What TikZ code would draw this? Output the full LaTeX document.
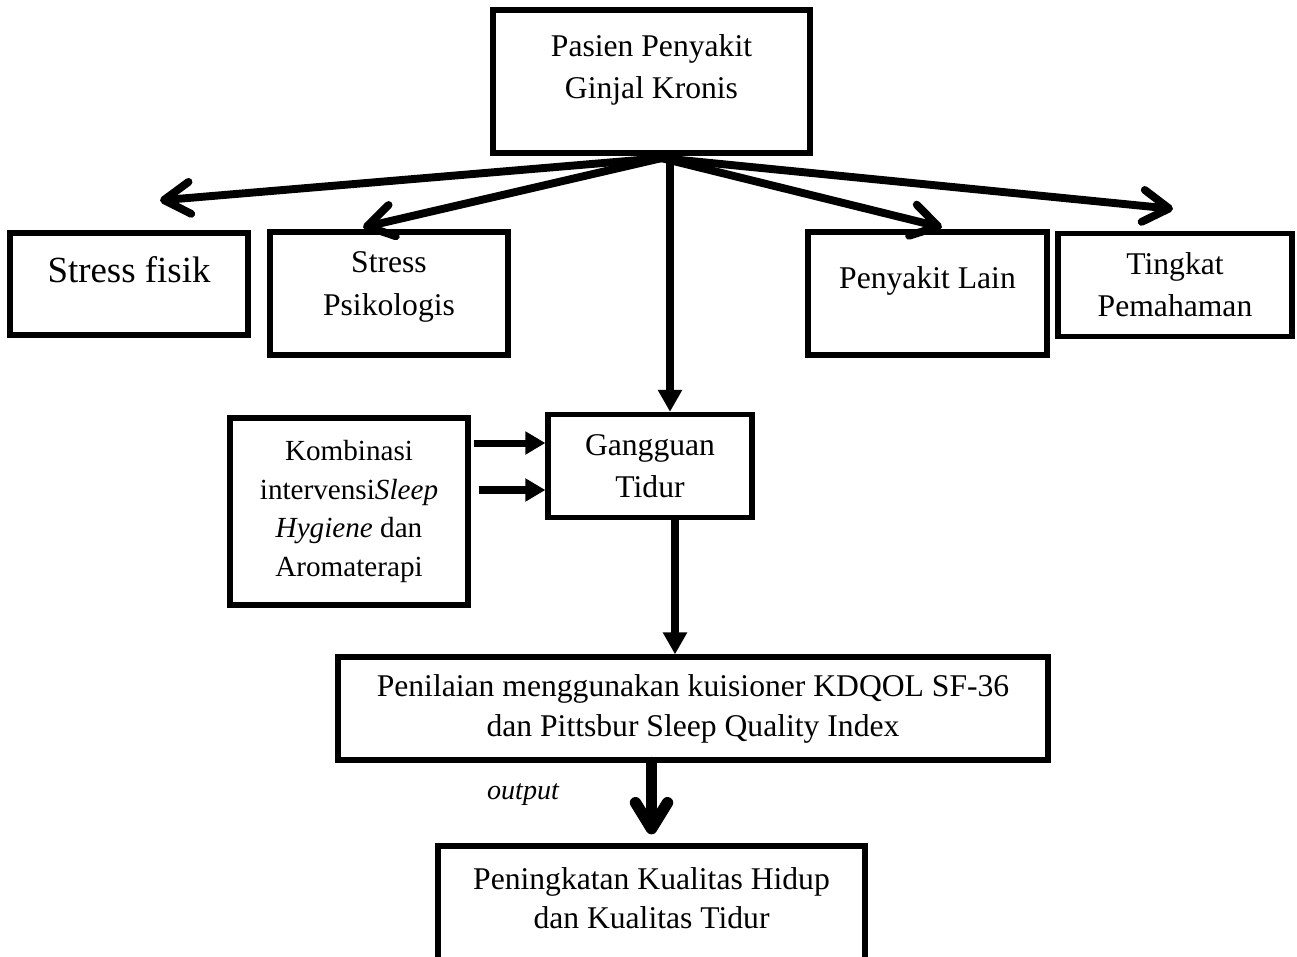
\documentclass[tikz,border=0pt]{standalone}
\usepackage{fontspec}
\setmainfont{Liberation Serif}
\usepackage{tikz}
\usetikzlibrary{arrows.meta,positioning,calc}

\tikzset{
  box/.style={draw, line width=3pt, align=center, inner sep=2pt,
    font=\fontsize{18}{24}\selectfont},
  smallbox/.style={box, font=\fontsize{16.6}{22}\selectfont},
  barb/.style={line width=4.5pt, line cap=round,
    -{Straight Barb[length=0.52cm,width=0.64cm,round]}},
  tri/.style={line width=4.5pt, -{Triangle[length=0.44cm,width=0.46cm]}},
  smalltri/.style={line width=4pt, -{Triangle[length=0.4cm,width=0.44cm]}},
}

\begin{document}
\begin{tikzpicture}[x=0.02cm,y=-0.02cm]
  \useasboundingbox (0,0) rectangle (1297,956);
  \clip (0,0) rectangle (1297,956);
  % boxes
  \node[box, minimum width=6.34cm, minimum height=2.86cm, text depth=0.6cm] (pasien) at (651.5,81.5) {Pasien Penyakit\\Ginjal Kronis};
  \node[box, minimum width=4.76cm, minimum height=2.04cm, text depth=0.56cm, font=\fontsize{21}{26}\selectfont] (fisik) at (129,284) {Stress fisik};
  \node[box, minimum width=4.76cm, minimum height=2.46cm, text depth=0.4cm] (psiko) at (389,293.5) {Stress\\Psikologis};
  \node[box, minimum width=4.78cm, minimum height=2.46cm, text depth=0.64cm] (lain) at (927.5,293.5) {Penyakit Lain};
  \node[box, minimum width=4.68cm, minimum height=2.06cm] (tingkat) at (1175,285) {Tingkat\\Pemahaman};
  \node[box, minimum width=4.08cm, minimum height=2.06cm] (gangguan) at (650,466) {Gangguan\\Tidur};
  \node[smallbox, minimum width=4.76cm, minimum height=3.74cm] (kombinasi) at (349,511.5) {Kombinasi\\intervensi\textit{Sleep}\\\textit{Hygiene} dan\\Aromaterapi};
  \node[box, minimum width=14.2cm, minimum height=2.06cm, font=\fontsize{18}{22.7}\selectfont] (penilaian) at (693,708.5) {Penilaian menggunakan kuisioner KDQOL SF-36\\dan Pittsbur Sleep Quality Index};
  \node[box, minimum width=8.54cm, minimum height=2.4cm, text depth=0.32cm, font=\fontsize{18}{22.7}\selectfont] (hasil) at (651.5,906) {Peningkatan Kualitas Hidup\\dan Kualitas Tidur};
  \node[font=\fontsize{16}{20}\selectfont\itshape] (outlbl) at (523,795) {output};

  % arrows from the top box
  \coordinate (hub) at ([xshift=0.2cm,yshift=-0.05cm]pasien.south);
  \coordinate (drop) at ([xshift=0.37cm]pasien.south);
  \draw[barb] (hub) -- ([xshift=0.62cm,yshift=0.6cm]fisik.north);
  \draw[barb] (hub) -- ([xshift=-0.52cm,yshift=0.04cm]psiko.north);
  \draw[barb] (hub) -- ([xshift=0.29cm,yshift=0.04cm]lain.north);
  \draw[barb] (hub) -- ([xshift=-0.04cm,yshift=0.44cm]tingkat.north);
  \draw[tri] (drop) -- (drop |- gangguan.north);

  % intervention
  \coordinate (k1) at ([xshift=0.06cm,yshift=1.37cm]kombinasi.east);
  \coordinate (k2) at ([xshift=0.16cm,yshift=0.43cm]kombinasi.east);
  \draw[smalltri] (k1) -- (k1 -| gangguan.west);
  \draw[smalltri] (k2) -- (k2 -| gangguan.west);

  % down to assessment and result
  \draw[tri] ([xshift=0.5cm]gangguan.south) -- ([xshift=0.5cm]gangguan.south |- penilaian.north);
  \draw[barb, line width=6.5pt] (hasil.north |- penilaian.south) -- ([yshift=0.18cm]hasil.north);
\end{tikzpicture}
\end{document}
